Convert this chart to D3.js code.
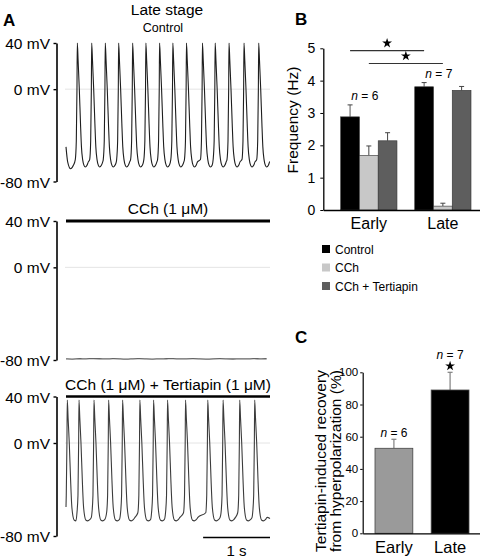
<!DOCTYPE html>
<html>
<head>
<meta charset="utf-8">
<script src="https://cdn.jsdelivr.net/npm/d3@7"></script>
<style>
body { margin: 0; background: #fff; }
svg { display: block; font-family: "Liberation Sans", Arial, Helvetica, sans-serif; }
</style>
</head>
<body>
<div id="fig"></div>
<script>
// ---- panel A : membrane potential traces ----
// spike peak times (s)
var controlSpikes = [0.169, 0.384, 0.587, 0.787, 0.996, 1.194, 1.399, 1.597, 1.801, 2.040, 2.230, 2.437, 2.661, 2.881];
var tertiapinSpikes = [0.019, 0.194, 0.418, 0.637, 0.846, 1.104, 1.309, 1.518, 1.787, 2.119, 2.348, 2.597, 2.821];
// action potential shape round each peak: [time from peak (s), mV]
var controlAP = [[-0.03, -61], [-0.015, -45], [-0.005, 0], [0, 40], [0.012, 25], [0.03, 0], [0.048, -30], [0.062, -50],
                 [0.08, -61], [0.1, -66], [0.12, -67.5], [0.145, -66], [0.165, -63]];
var tertiapinAP = [[-0.03, -60], [-0.015, -45], [-0.005, 0], [0, 37], [0.012, 22], [0.03, 0], [0.05, -32], [0.065, -52],
                   [0.085, -63], [0.105, -66.5], [0.13, -67], [0.16, -66], [0.185, -64]];
var controlLead = [[0, -50], [0.025, -63], [0.07, -69], [0.11, -66]];
var controlTail = [[3.05, -63]];
var tertiapinLead = [[0, -55]];
var tertiapinTail = [[3.05, -65]];
// CCh trace, one value every 0.1 s (mV)
var cchTrace = [-79.0, -79.3, -78.8, -79.1, -78.6, -78.9, -79.2, -78.7, -79.0, -79.4, -78.9, -78.8, -79.1, -79.3, -78.9,
                -79.0, -78.7, -79.2, -79.0, -78.8, -79.1, -79.3, -79.0, -78.7, -79.0, -79.2, -78.9, -79.1, -78.8, -79.0, -78.9];
var mvTicks = [40, 0, -80];
var traceTitles = ["Control", "CCh (1 μM)", "CCh (1 μM) + Tertiapin (1 μM)"];

// ---- panel B : frequency ----
var stages = ["Early", "Late"];
var conditions = ["Control", "CCh", "CCh + Tertiapin"];
var freqMean = [[2.88, 1.69, 2.14], [3.81, 0.12, 3.70]];
var freqErr = [[0.37, 0.29, 0.25], [0.13, 0.09, 0.12]];
var freqN = ["6", "7"];

// ---- panel C : recovery ----
var recoveryMean = [52.8, 89.0];
var recoveryErr = [5.6, 11.0];
var recoveryN = ["6", "7"];

var svg = d3.select("#fig").append("svg")
    .attr("width", 480)
    .attr("height", 560);

function panelLetter(t, x, y) {
    svg.append("text").attr("x", x).attr("y", y)
        .attr("font-size", 17).attr("font-weight", "bold").text(t);
}

function nLabel(g, x, y, n) {
    var t = g.append("text").attr("x", x).attr("y", y)
        .attr("text-anchor", "middle").attr("font-size", 12);
    t.append("tspan").attr("font-style", "italic").text("n");
    t.append("tspan").text(" = " + n);
}

function star(g, x, y) {
    g.append("path")
        .attr("d", d3.symbol(d3.symbolStar, 30)())
        .attr("transform", "translate(" + x + "," + y + ")")
        .attr("fill", "#000");
}

// build a trace from spike times and the AP shape
function buildTrace(spikes, shape, lead, tail) {
    var pts = lead.slice();
    spikes.forEach(function (tp, i) {
        var last = pts[pts.length - 1][0];
        var next = i < spikes.length - 1 ? spikes[i + 1] + shape[0][0] - 0.004 : 3.05;
        shape.forEach(function (s) {
            var t = tp + s[0];
            if (t > last && t < next) pts.push([t, s[1]]);
        });
    });
    tail.forEach(function (p) {
        if (p[0] > pts[pts.length - 1][0]) pts.push(p);
    });
    return pts;
}

panelLetter("A", 3, 26);

svg.append("text").attr("x", 167).attr("y", 15)
    .attr("text-anchor", "middle").attr("font-size", 15.5).text("Late stage");

var xT = d3.scaleLinear().domain([0, 3.05]).range([66, 270]);

var tracePanels = [
    { range: [181.5, 43], data: buildTrace(controlSpikes, controlAP, controlLead, controlTail), color: "#1e1e1e", w: 1.1 },
    { range: [360, 221], data: cchTrace.map(function (v, i) { return [i * 0.1, v]; }), color: "#666666", w: 1.3 },
    { range: [536, 396.5], data: buildTrace(tertiapinSpikes, tertiapinAP, tertiapinLead, tertiapinTail), color: "#3c3c3c", w: 1.1 }
];

tracePanels.forEach(function (p, i) {
    var y = d3.scaleLinear().domain([-80, 40]).range(p.range);
    var g = svg.append("g");

    // faint 0 mV line
    g.append("line")
        .attr("x1", xT(0) - 1).attr("x2", xT(3.05))
        .attr("y1", y(0)).attr("y2", y(0))
        .attr("stroke", "#e4e4e4").attr("stroke-width", 1);

    var ax = g.append("g")
        .attr("transform", "translate(56.5,0)")
        .call(d3.axisLeft(y).tickValues(mvTicks).tickFormat(function (d) { return d + " mV"; })
            .tickSize(3).tickSizeOuter(0).tickPadding(3.5));
    ax.attr("font-family", null).attr("font-size", 15.5);
    ax.select(".domain").attr("stroke-width", 1.6);
    ax.selectAll(".tick line").attr("stroke-width", 1.4);
    ax.selectAll(".tick text").attr("fill", "#000").attr("dy", "0.36em");

    var line = d3.line()
        .x(function (d) { return xT(d[0]); })
        .y(function (d) { return y(d[1]); })
        .curve(i === 1 ? d3.curveBasis : d3.curveMonotoneX);
    g.append("path")
        .datum(p.data)
        .attr("d", line)
        .attr("fill", "none")
        .attr("stroke", p.color)
        .attr("stroke-width", p.w);

    if (i === 0) {
        g.append("text").attr("x", 163).attr("y", 32)
            .attr("text-anchor", "middle").attr("font-size", 12.5).text(traceTitles[0]);
    } else {
        // drug application bar
        g.append("line")
            .attr("x1", xT(0)).attr("x2", xT(3.05))
            .attr("y1", y(40)).attr("y2", y(40))
            .attr("stroke", "#000").attr("stroke-width", i === 1 ? 3 : 2.6);
        g.append("text").attr("x", 168).attr("y", y(40) - (i === 1 ? 7 : 6.5))
            .attr("text-anchor", "middle").attr("font-size", 15.5).text(traceTitles[i]);
    }
});

// 1 s scale bar
svg.append("line")
    .attr("x1", xT(2.05)).attr("x2", xT(3.05))
    .attr("y1", 537.5).attr("y2", 537.5)
    .attr("stroke", "#000").attr("stroke-width", 1.5);
svg.append("text").attr("x", (xT(2.05) + xT(3.05)) / 2).attr("y", 556)
    .attr("text-anchor", "middle").attr("font-size", 15).text("1 s");

// ---- panel B ----
panelLetter("B", 295, 25);

var xB = d3.scaleBand().domain(stages).range([323.3, 488.4]).paddingInner(0.24).paddingOuter(0.235);
var xB2 = d3.scaleBand().domain(conditions).range([0, xB.bandwidth()]);
var yB = d3.scaleLinear().domain([0, 5]).range([210, 48.3]);
var condColor = d3.scaleOrdinal().domain(conditions).range(["#000000", "#c8c8c8", "#5e5e5e"]);

var gB = svg.append("g");

stages.forEach(function (s, si) {
    conditions.forEach(function (c, ci) {
        var x = xB(s) + xB2(c);
        var cx = x + xB2.bandwidth() / 2;
        var top = yB(freqMean[si][ci] + freqErr[si][ci]);
        gB.append("line")
            .attr("x1", cx).attr("x2", cx)
            .attr("y1", yB(freqMean[si][ci])).attr("y2", top)
            .attr("stroke", ci === 0 ? "#555" : "#444").attr("stroke-width", 1);
        gB.append("line")
            .attr("x1", cx - 2.5).attr("x2", cx + 2.5)
            .attr("y1", top).attr("y2", top)
            .attr("stroke", "#444").attr("stroke-width", 1);
        gB.append("rect")
            .attr("x", x).attr("width", xB2.bandwidth())
            .attr("y", yB(freqMean[si][ci]))
            .attr("height", yB(0) - yB(freqMean[si][ci]))
            .attr("fill", condColor(c))
            .attr("stroke", "#333").attr("stroke-width", 0.6);
    });
    nLabel(gB, xB(s) + xB.bandwidth() / 2 - 4, si === 0 ? 100 : 78, freqN[si]);
});

// significance brackets: control early vs late, CCh early vs late
[0, 1].forEach(function (ci, k) {
    var c = conditions[ci];
    var x1 = xB("Early") + xB2(c) + xB2.bandwidth() / 2;
    var x2 = xB("Late") + xB2(c) + xB2.bandwidth() / 2;
    var yy = k === 0 ? 50.7 : 63.5;
    gB.append("line").attr("x1", x1).attr("x2", x2).attr("y1", yy).attr("y2", yy)
        .attr("stroke", "#333").attr("stroke-width", 1.2);
    star(gB, (x1 + x2) / 2, yy - 7.5);
});

var axB = gB.append("g").attr("transform", "translate(323.3,0)")
    .call(d3.axisLeft(yB).ticks(5).tickSize(3).tickSizeOuter(0).tickPadding(5));
axB.attr("font-family", null).attr("font-size", 14);
axB.select(".domain").attr("stroke-width", 1.3);
axB.selectAll(".tick text").attr("fill", "#000");

var axBx = gB.append("g").attr("transform", "translate(0,210)")
    .call(d3.axisBottom(xB).tickSize(0).tickSizeOuter(0).tickPadding(8));
axBx.attr("font-family", null).attr("font-size", 16);
axBx.select(".domain").attr("stroke-width", 1.3);
axBx.selectAll(".tick text").attr("fill", "#000");

gB.append("text")
    .attr("transform", "translate(298,120) rotate(-90)")
    .attr("text-anchor", "middle").attr("font-size", 15.5)
    .text("Frequency (Hz)");

// legend
var leg = gB.selectAll(".leg").data(conditions).enter().append("g")
    .attr("transform", function (d, i) { return "translate(322," + (249 + i * 18.5) + ")"; });
leg.append("rect").attr("x", 0).attr("y", -4).attr("width", 8).attr("height", 8)
    .attr("fill", function (d) { return condColor(d); });
leg.append("text").attr("x", 13).attr("y", 4.5).attr("font-size", 12)
    .text(function (d) { return d; });

// ---- panel C ----
panelLetter("C", 295, 343);

var xC = d3.scaleBand().domain(stages).range([362.7, 481.3]).paddingInner(0.327).paddingOuter(0.219);
var yC = d3.scaleLinear().domain([0, 100]).range([533.3, 372.3]);
var stageColor = ["#9a9a9a", "#000000"];

var gC = svg.append("g");
stages.forEach(function (s, si) {
    var cx = xC(s) + xC.bandwidth() / 2;
    var top = yC(recoveryMean[si] + recoveryErr[si]);
    gC.append("line").attr("x1", cx).attr("x2", cx)
        .attr("y1", yC(recoveryMean[si])).attr("y2", top)
        .attr("stroke", "#808080").attr("stroke-width", 1.2);
    gC.append("line").attr("x1", cx - 2.5).attr("x2", cx + 2.5)
        .attr("y1", top).attr("y2", top)
        .attr("stroke", "#808080").attr("stroke-width", 1.2);
    gC.append("rect")
        .attr("x", xC(s)).attr("width", xC.bandwidth())
        .attr("y", yC(recoveryMean[si]))
        .attr("height", yC(0) - yC(recoveryMean[si]))
        .attr("fill", stageColor[si])
        .attr("stroke", "#444").attr("stroke-width", 0.8);
});
nLabel(gC, xC("Early") + xC.bandwidth() / 2, 436.5, recoveryN[0]);
nLabel(gC, xC("Late") + xC.bandwidth() / 2, 359, recoveryN[1]);
star(gC, xC("Late") + xC.bandwidth() / 2, 366);

var axC = gC.append("g").attr("transform", "translate(362.7,0)")
    .call(d3.axisLeft(yC).tickValues([0, 20, 40, 60, 80, 100]).tickSize(2.5).tickSizeOuter(0).tickPadding(2));
axC.attr("font-family", null).attr("font-size", 11.5);
axC.select(".domain").attr("stroke-width", 1.2);
axC.selectAll(".tick text").attr("fill", "#000");

var axCx = gC.append("g").attr("transform", "translate(0,533.3)")
    .call(d3.axisBottom(xC).tickSize(0).tickSizeOuter(0).tickPadding(8));
axCx.attr("font-family", null).attr("font-size", 16.5);
axCx.select(".domain").attr("stroke-width", 1.2);
axCx.selectAll(".tick text").attr("fill", "#000");

gC.append("text")
    .attr("transform", "translate(326,461) rotate(-90)")
    .attr("text-anchor", "middle").attr("font-size", 15.5)
    .text("Tertiapin-induced recovery");
gC.append("text")
    .attr("transform", "translate(341,461) rotate(-90)")
    .attr("text-anchor", "middle").attr("font-size", 15.5)
    .text("from hyperpolarization (%)");
</script>
</body>
</html>
